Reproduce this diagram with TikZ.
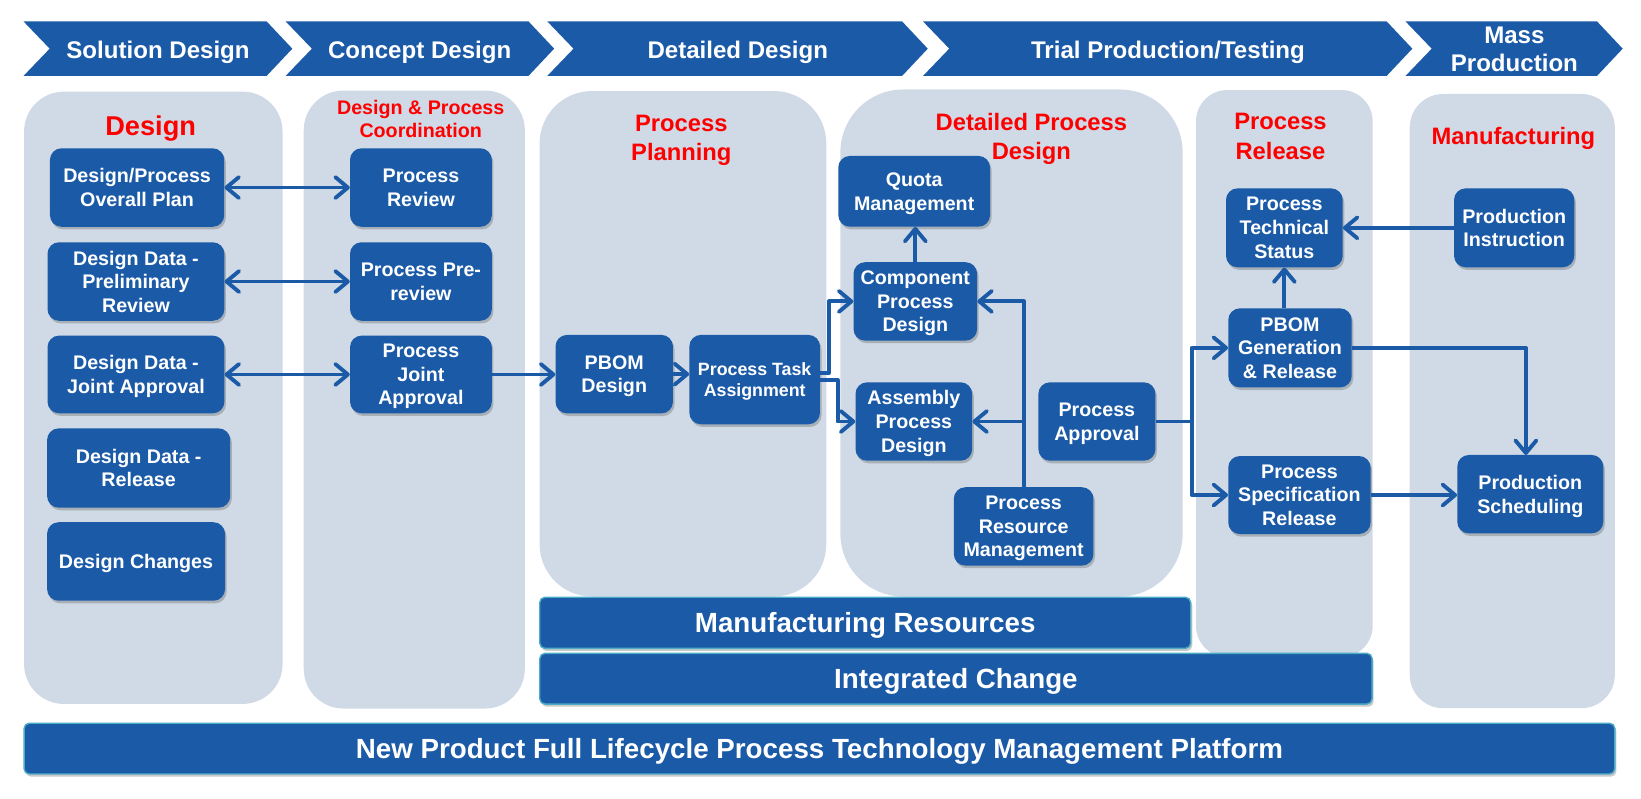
\documentclass[tikz,border=0pt]{standalone}
\usepackage{fontspec}
\setmainfont{Liberation Sans}
\usetikzlibrary{arrows.meta,shadows}
\definecolor{boxblue}{RGB}{27,90,167}
\definecolor{lanegray}{RGB}{207,218,230}
\definecolor{barteal}{RGB}{75,172,198}
\definecolor{titlered}{RGB}{255,0,0}
\begin{document}
\begin{tikzpicture}[x=1pt,y=-1pt,
  softshadow/.style={drop shadow={shadow xshift=1.5pt,shadow yshift=-2.5pt,opacity=0.3,fill=black!70}},
  box/.style={fill=boxblue, rounded corners=11pt, text=white, font=\bfseries\fontsize{18.8}{22.6}\selectfont, align=center, inner sep=0pt, text depth=-1.5pt, softshadow},
  smallbox/.style={box, font=\bfseries\fontsize{17}{20.7}\selectfont},
  lane/.style={fill=lanegray},
  bar/.style={fill=boxblue, draw=barteal, line width=1.3pt, rounded corners=5pt, text=white, font=\bfseries\fontsize{26.5}{30}\selectfont, inner sep=0pt, text height=19pt, text depth=-2.5pt, softshadow},
  chev/.style={fill=boxblue},
  chevtext/.style={text=white, font=\bfseries\fontsize{23}{26.5}\selectfont, align=center},
  lanetitle/.style={text=titlered, font=\bfseries\fontsize{22.7}{28}\selectfont, align=center},
  conn/.style={draw=boxblue, line width=3.7pt, line join=round},
  arr/.style={conn, -{Straight Barb[length=12pt,width=20pt,round]}},
  darr/.style={conn, {Straight Barb[length=12pt,width=20pt,round]}-{Straight Barb[length=12pt,width=20pt,round]}},
]
\useasboundingbox (0,0) rectangle (1568,763);

% header chevrons
\fill[chev] (22.5,20.5) -- (254.8,20.5) -- (279.3,46.5) -- (254.8,72.5) -- (22.5,72.5) -- (47.5,46.5) -- cycle;
\fill[chev] (273,20.5) -- (505,20.5) -- (529.5,46.5) -- (505,72.5) -- (273,72.5) -- (298,46.5) -- cycle;
\fill[chev] (523,20.5) -- (862,20.5) -- (886.5,46.5) -- (862,72.5) -- (523,72.5) -- (548,46.5) -- cycle;
\fill[chev] (882,20.5) -- (1325,20.5) -- (1349.5,46.5) -- (1325,72.5) -- (882,72.5) -- (907,46.5) -- cycle;
\fill[chev] (1343,20.5) -- (1526,20.5) -- (1550.5,46.5) -- (1526,72.5) -- (1343,72.5) -- (1368,46.5) -- cycle;
\node[chevtext] (h1) at (151,50) {Solution Design};
\node[chevtext] (h2) at (401,50) {Concept Design};
\node[chevtext] (h3) at (705,50) {Detailed Design};
\node[chevtext] (h4) at (1116,50) {Trial Production/Testing};
\node[chevtext] (h5) at (1447,47) {Mass\\Production};

% lanes
\fill[lane, rounded corners=38pt] (23,87.6) rectangle (270,672.6);
\fill[lane, rounded corners=38pt] (290.2,86.5) rectangle (501.5,677);
\fill[lane, rounded corners=50pt] (515.6,87) rectangle (789.5,570);
\fill[lane, rounded corners=60pt] (803,85.5) rectangle (1130,570);
\fill[lane, rounded corners=30pt] (1142.8,86) rectangle (1311.6,628);
\fill[lane, rounded corners=32pt] (1347,89.8) rectangle (1543,676.7);

% lane titles
\node[lanetitle, font=\bfseries\fontsize{26}{30}\selectfont] (t1) at (144,123) {Design};
\node[lanetitle, font=\bfseries\fontsize{18.8}{22.3}\selectfont] (t2) at (402,113.5) {Design \& Process\\Coordination};
\node[lanetitle] (t3) at (651,134) {Process\\Planning};
\node[lanetitle] (t4) at (985.5,133) {Detailed Process\\Design};
\node[lanetitle] (t5) at (1223.5,130.5) {Process\\Release};
\node[lanetitle] (t6) at (1446,132) {Manufacturing};

% bottom bars
\node[bar, minimum width=622pt, minimum height=48.8pt] (mr) at (826.7,595.1) {Manufacturing Resources};
\node[bar, minimum width=795.3pt, minimum height=48.5pt] (ic) at (913.4,648.5) {Integrated Change};
\node[bar, minimum width=1520pt, minimum height=48.5pt] (pf) at (783,715.3) {New Product Full Lifecycle Process Technology Management Platform};

% boxes
\node[box, minimum width=166.5pt, minimum height=75pt] (b1) at (131,179.2) {Design/Process\\Overall Plan};
\node[box, minimum width=169pt, minimum height=75pt] (b2) at (129.9,269) {Design Data -\\Preliminary\\Review};
\node[box, minimum width=169pt, minimum height=74.2pt] (b3) at (129.9,357.8) {Design Data -\\Joint Approval};
\node[box, minimum width=175pt, minimum height=75.7pt] (b4) at (132.5,447.2) {Design Data -\\Release};
\node[box, minimum width=170pt, minimum height=75pt] (b5) at (130,536.5) {Design Changes};

\node[box, minimum width=135.5pt, minimum height=75pt] (c1) at (402.2,179.2) {Process\\Review};
\node[box, minimum width=135.5pt, minimum height=75pt] (c2) at (402.2,269) {Process Pre-\\review};
\node[box, minimum width=135.5pt, minimum height=74.2pt] (c3) at (402.2,357.8) {Process\\Joint\\Approval};

\node[box, minimum width=112.2pt, minimum height=75pt] (d1) at (586.9,357.5) {PBOM\\Design};
\node[smallbox, minimum width=124.8pt, minimum height=85.4pt] (d2) at (721.1,362.7) {Process Task\\Assignment};

\node[box, minimum width=145pt, minimum height=67.6pt] (e1) at (873.5,182.8) {Quota\\Management};
\node[box, minimum width=118.1pt, minimum height=74.9pt] (e2) at (874.6,288) {Component\\Process\\Design};
\node[box, minimum width=111.5pt, minimum height=74.9pt] (e3) at (873.2,402.75) {Assembly\\Process\\Design};
\node[box, minimum width=111.8pt, minimum height=74.9pt] (e4) at (1048.1,402.75) {Process\\Approval};
\node[box, minimum width=133.4pt, minimum height=74.9pt] (e5) at (978.1,503) {Process\\Resource\\Management};

\node[box, minimum width=111.5pt, minimum height=75.4pt] (f1) at (1227.2,217.7) {Process\\Technical\\Status};
\node[box, minimum width=117.9pt, minimum height=75.5pt] (f2) at (1232.6,332.4) {PBOM\\Generation\\\& Release};
\node[box, minimum width=136pt, minimum height=74.5pt] (f3) at (1241.6,473) {Process\\Specification\\Release};

\node[box, minimum width=114.9pt, minimum height=75.4pt] (g1) at (1446.8,217.7) {Production\\Instruction};
\node[box, minimum width=139.5pt, minimum height=74.9pt] (g2) at (1462.2,472.2) {Production\\Scheduling};

% connectors
\draw[darr] (b1.east) -- (c1.west);
\draw[darr] (b2.east) -- (c2.west);
\draw[darr] (b3.east) -- (c3.west);
\draw[arr] (c3.east) -- (c3.east -| d1.west);
\draw[arr] (d1.east) -- (d1.east -| d2.west);

\coordinate (j1) at (792,356.5);
\coordinate (j2) at (800.3,363);
\draw[arr] (d2.east |- j1) -- (j1) |- (e2.west);
\draw[arr] (d2.east |- j2) -- (j2) |- (e3.west);
\draw[arr] (e2.north) -- (e2.north |- e1.south);
\draw[arr] (e5.north) |- (e2.east);
\draw[arr] (e5.north |- e3.east) -- (e3.east);

\coordinate (j3) at (1138.6,402.75);
\draw[conn] (e4.east) -- (j3);
\draw[arr] (j3) |- (f2.west);
\draw[arr] (j3) |- (f3.west);
\draw[arr] (f2.north -| f1.south) -- (f1.south);
\draw[arr] (g1.west) -- (g1.west -| f1.east);
\coordinate (j4) at (1458,434.7);
\draw[arr] (f2.east) -| (j4);
\draw[arr] (f3.east) -- (f3.east -| g2.west);
\end{tikzpicture}
\end{document}
